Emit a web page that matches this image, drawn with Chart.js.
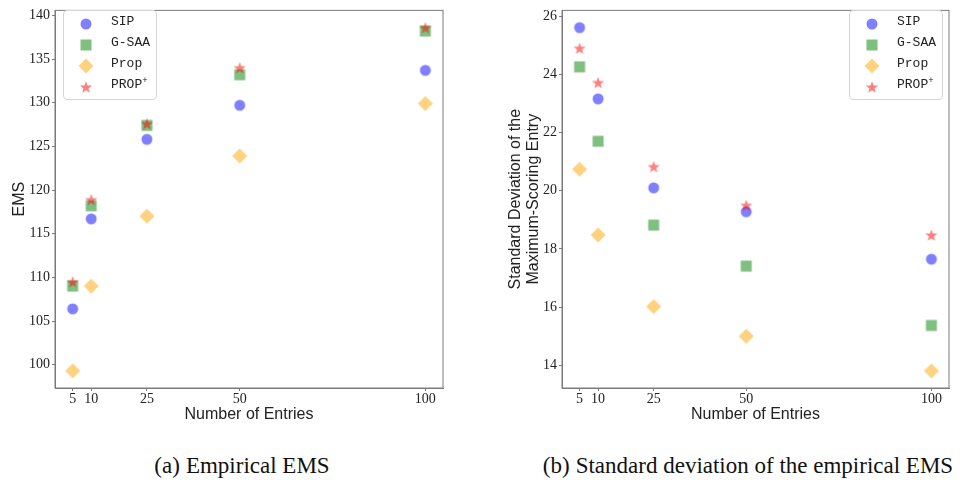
<!DOCTYPE html>
<html>
<head>
<meta charset="utf-8">
<script src="https://cdn.jsdelivr.net/npm/chart.js@4.4.1/dist/chart.umd.min.js"></script>
<style>
  body { margin: 0; background: #fff; }
  #wrap { position: relative; width: 963px; height: 480px; overflow: hidden; }
  canvas.plot { position: absolute; top: 0; }
  .legend { position: absolute; top: 10px; width: 92px; height: 88px; border: 1px solid #d6d6d6; border-radius: 4px; background: rgba(255,255,255,0.85); }
  .legend .row { position: absolute; left: 0; height: 20px; width: 92px; }
  .legend canvas { position: absolute; left: 12px; top: 0; }
  .legend span { position: absolute; left: 47px; top: 0; line-height: 20px; font: 13px "Liberation Mono", "DejaVu Sans Mono", monospace; color: #222; white-space: nowrap; }
  .legend sup { font-size: 9px; vertical-align: 5px; line-height: 0; }
  .caption { position: absolute; top: 453px; font: 23px "Liberation Serif", "DejaVu Serif", serif; color: #111; white-space: nowrap; transform: translateX(-50%); }
  .caption b { font-weight: normal; margin-right: 6px; }
</style>
</head>
<body>
<div id="wrap">
  <canvas id="emsChart" class="plot" width="481" height="440" style="left:0"></canvas>
  <canvas id="sdChart" class="plot" width="482" height="440" style="left:481px"></canvas>
  <div class="legend" id="legendA" style="left:63px"></div>
  <div class="legend" id="legendB" style="left:849px"></div>
  <div class="caption" style="left:242px"><b>(a)</b>Empirical EMS</div>
  <div class="caption" style="left:748px"><b>(b)</b>Standard deviation of the empirical EMS</div>
</div>
<script>
// number of entries (x values) and tick labels
const entries = [5, 10, 25, 50, 100];
const xTickLabels = ["5", "10", "25", "50", "100"];

// (a) empirical EMS
const emsSIP      = [106.4, 116.7, 125.8, 129.7, 133.7];
const emsGSAA     = [109.0, 118.2, 127.4, 133.2, 138.2];
const emsProp     = [99.3, 109.0, 117.0, 123.9, 129.9];
const emsPropPlus = [109.5, 118.9, 127.6, 134.0, 138.6];
const emsTicks    = [100, 105, 110, 115, 120, 125, 130, 135, 140];

// (b) standard deviation of the maximum-scoring entry
const sdSIP      = [25.61, 23.16, 20.10, 19.28, 17.65];
const sdGSAA     = [24.26, 21.70, 18.82, 17.41, 15.37];
const sdProp     = [20.74, 18.48, 16.02, 15.00, 13.81];
const sdPropPlus = [24.90, 23.72, 20.83, 19.50, 18.48];
const sdTicks    = [14, 16, 18, 20, 22, 24, 26];

const seriesNames = ["SIP", "G-SAA", "Prop", "PROP+"];

const spine = "#7a7a7a";
const textColor = "#222";

const styles = [
    { shape: "circle", color: "rgba(0,0,255,0.5)" },
    { shape: "square", color: "rgba(0,128,0,0.5)" },
    { shape: "diamond", color: "rgba(255,165,0,0.5)" },
    { shape: "star", color: "rgba(255,0,0,0.5)" },
];

const drawMarker = (cv, shape, color) => {
    const c = cv.getContext("2d");
    const m = cv.width / 2;
    c.fillStyle = color;
    c.beginPath();
    if (shape === "circle") {
        c.arc(m, m, 5.5, 0, Math.PI * 2);
    } else if (shape === "square") {
        c.rect(m - 5.5, m - 5.5, 11, 11);
    } else if (shape === "diamond") {
        c.moveTo(m, m - 7.5);
        c.lineTo(m + 7.5, m);
        c.lineTo(m, m + 7.5);
        c.lineTo(m - 7.5, m);
    } else {
        for (let i = 0; i < 10; i++) {
            const r = i % 2 === 0 ? 6.4 : 2.6;
            const a = -Math.PI / 2 + (i * Math.PI) / 5;
            const px = m + r * Math.cos(a), py = m + 0.6 + r * Math.sin(a);
            if (i === 0) c.moveTo(px, py); else c.lineTo(px, py);
        }
    }
    c.closePath();
    c.fill();
    return cv;
};

const markerImage = (s) => {
    const cv = document.createElement("canvas");
    cv.width = 20; cv.height = 20;
    return drawMarker(cv, s.shape, s.color);
};

const buildLegend = (id) => {
    const box = document.getElementById(id);
    const rowTops = [3, 24, 45, 66];
    seriesNames.forEach((name, i) => {
        const row = document.createElement("div");
        row.className = "row";
        row.style.top = rowTops[i] + "px";
        const cv = document.createElement("canvas");
        cv.width = 20; cv.height = 20;
        drawMarker(cv, styles[i].shape, styles[i].color);
        const label = document.createElement("span");
        if (name === "PROP+") {
            label.innerHTML = "PROP<sup>+</sup>";
        } else {
            label.textContent = name;
        }
        row.appendChild(cv);
        row.appendChild(label);
        box.appendChild(row);
    });
};

const framePlugin = {
    id: "frame",
    afterDraw(chart) {
        const { ctx, chartArea: a } = chart;
        ctx.save();
        ctx.strokeStyle = spine;
        ctx.lineWidth = 1;
        ctx.strokeRect(a.left, a.top, a.right - a.left, a.bottom - a.top);
        ctx.restore();
    },
};

const paddedRange = (arrays) => {
    const all = [].concat(...arrays);
    const lo = Math.min(...all), hi = Math.max(...all);
    const pad = (hi - lo) * 0.05;
    return [lo - pad, hi + pad];
};

const makeChart = (id, data, yTicks, yTitle, opts) => {
    const [yMin, yMax] = paddedRange(data);
    const [xMin, xMax] = paddedRange([entries]);
    const datasets = data.map((vals, i) => ({
        label: seriesNames[i],
        data: entries.map((x, j) => ({ x, y: vals[j] })),
        pointStyle: markerImage(styles[i]),
        pointRadius: 6,
        order: data.length - i,
    }));
    return new Chart(document.getElementById(id), {
        type: "scatter",
        data: { datasets },
        plugins: [framePlugin],
        options: {
            responsive: false,
            animation: false,
            events: [],
            layout: { padding: { left: 0, top: 3, right: opts.right, bottom: 0 } },
            plugins: { legend: { display: false }, tooltip: { enabled: false } },
            scales: {
                x: {
                    type: "linear",
                    min: xMin,
                    max: xMax,
                    afterBuildTicks: (s) => { s.ticks = entries.map((v) => ({ value: v })); },
                    afterFit: (s) => { s.height = 52; },
                    grid: { drawOnChartArea: false, drawTicks: true, tickLength: 3, tickColor: spine },
                    border: { display: true, color: spine },
                    ticks: {
                        padding: 0,
                        color: textColor,
                        font: { family: "'Liberation Serif', 'DejaVu Serif', serif", size: 14 },
                        callback: (v) => xTickLabels[entries.indexOf(v)],
                    },
                    title: {
                        display: true,
                        text: "Number of Entries",
                        color: textColor,
                        padding: { top: 0, bottom: 16 },
                        font: { family: "'Liberation Sans', 'DejaVu Sans', sans-serif", size: 16, lineHeight: 1.2 },
                    },
                },
                y: {
                    type: "linear",
                    min: yMin,
                    max: yMax,
                    afterBuildTicks: (s) => { s.ticks = yTicks.map((v) => ({ value: v })); },
                    afterFit: (s) => { s.width = opts.yWidth; },
                    grid: { drawOnChartArea: false, drawTicks: true, tickLength: 3, tickColor: spine },
                    border: { display: true, color: spine },
                    ticks: {
                        padding: 2,
                        color: textColor,
                        font: { family: "'Liberation Serif', 'DejaVu Serif', serif", size: 14 },
                        callback: (v) => String(v),
                    },
                    title: {
                        display: true,
                        text: yTitle,
                        color: textColor,
                        padding: { top: opts.titlePad, bottom: 0 },
                        font: { family: "'Liberation Sans', 'DejaVu Sans', sans-serif", size: 16, lineHeight: 1.15 },
                    },
                },
            },
        },
    });
};

makeChart("emsChart", [emsSIP, emsGSAA, emsProp, emsPropPlus], emsTicks, "EMS",
    { right: 38, yWidth: 55, titlePad: 10 });
makeChart("sdChart", [sdSIP, sdGSAA, sdProp, sdPropPlus], sdTicks,
    ["Standard Deviation of the", "Maximum-Scoring Entry"],
    { right: 14, yWidth: 81, titlePad: 25 });

buildLegend("legendA");
buildLegend("legendB");
</script>
</body>
</html>
